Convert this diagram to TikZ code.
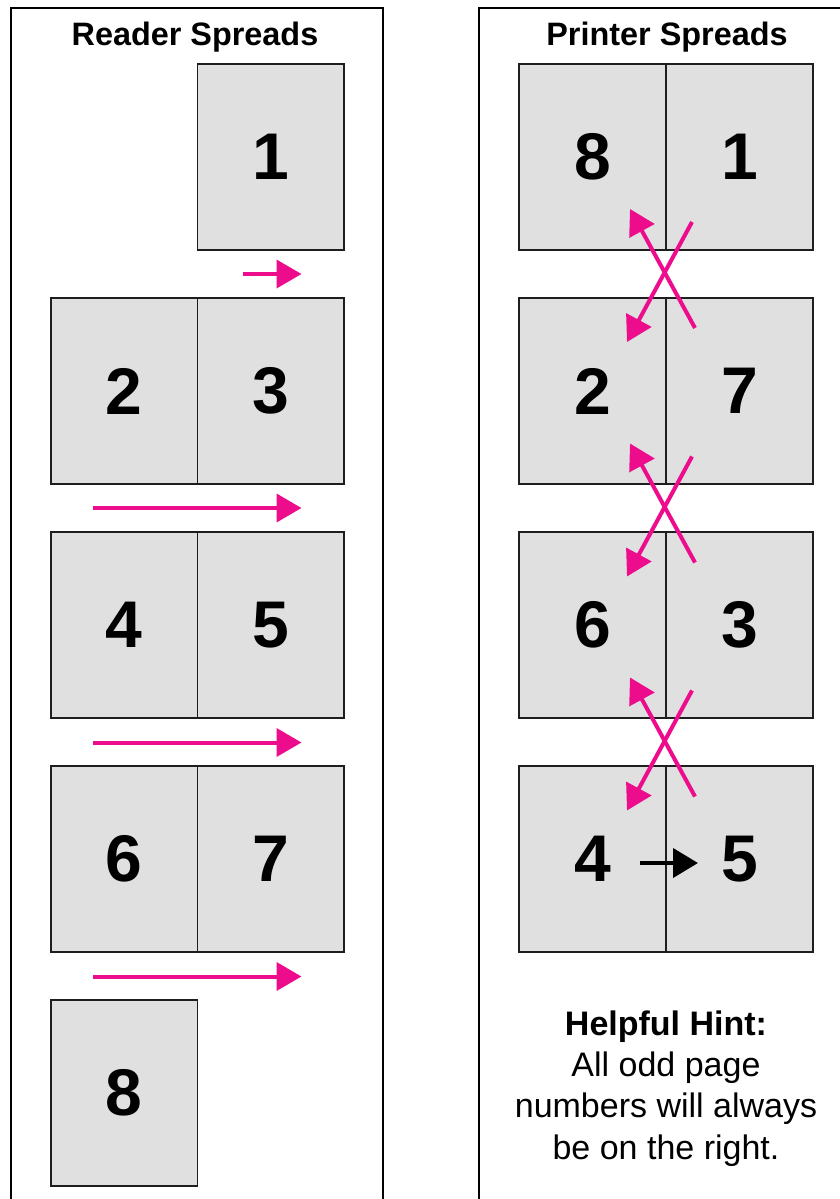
\documentclass[tikz,border=0pt]{standalone}
\usepackage{fontspec}
\setmainfont{Liberation Sans}
\usetikzlibrary{arrows.meta}
\definecolor{mag}{RGB}{236,12,140}
\definecolor{pagefill}{RGB}{224,224,224}
\definecolor{pageline}{RGB}{30,30,30}
\begin{document}
\begin{tikzpicture}[x=1pt,y=-1pt,
  pagebox/.style={draw=pageline,line width=1.8pt,fill=pagefill,minimum width=146.5pt,minimum height=186pt,inner sep=0pt,font=\fontsize{66}{66}\selectfont\bfseries},
  panel/.style={draw=black,line width=2.2pt},
  titletext/.style={anchor=base,inner sep=0pt,font=\fontsize{32.4}{33}\selectfont\bfseries},
  hinttext/.style={anchor=base,inner sep=0pt,font=\fontsize{34}{34}\selectfont},
  magarrow/.style={draw=mag,line width=4pt,-{Triangle[length=25pt,width=28pt]}},
  blkarrow/.style={draw=black,line width=4pt,-{Triangle[length=25pt,width=29pt]}}
]
\useasboundingbox (0,0) rectangle (840,1199);
\clip (0,0) rectangle (840,1199);

% panels
\draw[panel] (11,1215) |- (383,8) -- (383,1215);
\draw[panel] (479,1215) |- (860,8);

% titles
\node[titletext] (t1) at (195,45.5) {Reader Spreads};
\node[titletext] (t2) at (667,45.5) {Printer Spreads};

% reader spreads
\node[pagebox] (L1) at (270.75,157) {1};
\node[pagebox] (L2) at (124.25,391) {2};
\node[pagebox] (L3) at (270.75,391) {3};
\node[pagebox] (L4) at (124.25,625) {4};
\node[pagebox] (L5) at (270.75,625) {5};
\node[pagebox] (L6) at (124.25,859) {6};
\node[pagebox] (L7) at (270.75,859) {7};
\node[pagebox] (L8) at (124.25,1093) {8};

% printer spreads
\node[pagebox,minimum width=147pt] (P8) at (592.5,157) {8};
\node[pagebox,minimum width=147pt] (P1) at (739.5,157) {1};
\node[pagebox,minimum width=147pt] (P2) at (592.5,391) {2};
\node[pagebox,minimum width=147pt] (P7) at (739.5,391) {7};
\node[pagebox,minimum width=147pt] (P6) at (592.5,625) {6};
\node[pagebox,minimum width=147pt] (P3) at (739.5,625) {3};
\node[pagebox,minimum width=147pt] (P4) at (592.5,859) {4};
\node[pagebox,minimum width=147pt] (P5) at (739.5,859) {5};

% reader arrows
\coordinate (ra1s) at (243,274);  \coordinate (ra1e) at (301.5,274);
\coordinate (ra2s) at (93,508);   \coordinate (ra2e) at (301.5,508);
\coordinate (ra3s) at (93,742.5); \coordinate (ra3e) at (301.5,742.5);
\coordinate (ra4s) at (93,976.5); \coordinate (ra4e) at (301.5,976.5);
\draw[magarrow] (ra1s) -- (ra1e);
\draw[magarrow] (ra2s) -- (ra2e);
\draw[magarrow] (ra3s) -- (ra3e);
\draw[magarrow] (ra4s) -- (ra4e);

% printer crossing arrows
\foreach \c/\n in {273.5/a,508/b,742/c}{
  \coordinate (up\n s) at (695,\c+54.5);
  \coordinate (up\n e) at (630,\c-64.5);
  \coordinate (dn\n s) at (692,\c-51.5);
  \coordinate (dn\n e) at (627,\c+68.5);
  \draw[magarrow] (up\n s) -- (up\n e);
  \draw[magarrow] (dn\n s) -- (dn\n e);
}

% black arrow 4 -> 5
\coordinate (bas) at (640,863);
\coordinate (bae) at (698,863);
\draw[blkarrow] (bas) -- (bae);

% hint
\node[hinttext,font=\fontsize{34}{34}\selectfont\bfseries] (h1) at (666,1035) {Helpful Hint:};
\node[hinttext] (h2) at (666,1076.3) {All odd page};
\node[hinttext] (h3) at (666,1117.7) {numbers will always};
\node[hinttext] (h4) at (666,1159) {be on the right.};
\end{tikzpicture}
\end{document}
